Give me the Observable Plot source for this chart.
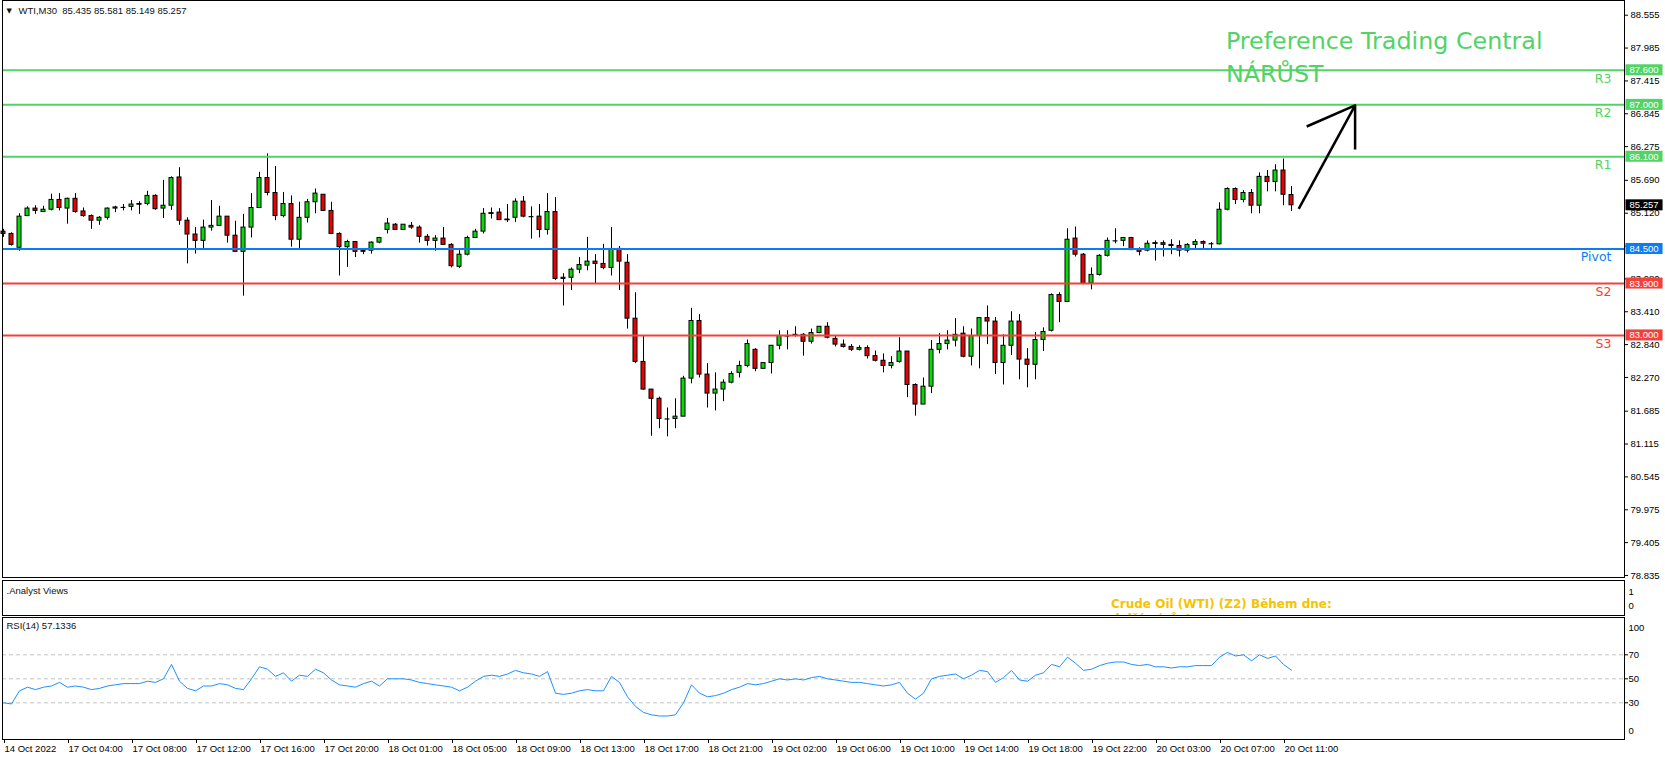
<!DOCTYPE html>
<html><head><meta charset="utf-8">
<script src="https://cdn.jsdelivr.net/npm/d3@7"></script>
<script src="https://cdn.jsdelivr.net/npm/@observablehq/plot@0.6"></script>
<style>
html,body{margin:0;padding:0;background:#fff;}
#wrap{position:relative;width:1665px;height:760px;overflow:hidden;background:#fff;}
#wrap svg{position:absolute;left:0;overflow:visible;}
#wrap text{white-space:pre;}
</style></head><body><div id="wrap"></div>
<script>
// ---- data (WTI, M30) ----
const opens = [84.80,84.76,84.52,85.07,85.20,85.14,85.18,85.35,85.20,85.37,85.15,85.07,84.99,85.04,85.20,85.22,85.23,85.27,85.28,85.42,
85.20,85.25,85.74,84.99,84.75,84.64,84.87,84.90,85.06,84.73,84.45,84.87,85.21,85.73,85.47,85.07,85.28,84.66,85.04,85.31,
85.44,85.16,84.76,84.53,84.62,84.47,84.47,84.61,84.83,84.92,84.83,84.90,84.87,84.71,84.64,84.68,84.57,84.19,84.40,84.69,
84.80,85.11,85.13,85.00,85.04,85.32,85.06,85.06,84.83,85.14,83.98,84.00,84.14,84.21,84.28,84.24,84.17,84.50,84.26,83.29,
82.54,82.06,81.90,81.55,81.55,81.59,82.25,83.25,82.32,81.99,82.06,82.18,82.35,82.47,82.75,82.42,82.52,82.82,82.99,83.01,
83.01,82.89,83.04,83.15,82.94,82.84,82.80,82.75,82.78,82.64,82.56,82.47,82.54,82.72,82.14,81.80,82.11,82.75,82.85,82.91,
83.03,82.63,82.99,83.30,83.24,82.52,82.82,83.24,82.58,82.49,82.92,83.08,83.70,83.58,84.68,84.40,83.90,84.05,84.38,84.64,
84.64,84.69,84.48,84.47,84.59,84.60,84.57,84.55,84.47,84.57,84.62,84.59,84.58,85.18,85.54,85.35,85.47,85.25,85.75,85.66,
85.86,85.435];
const highs = [84.84,84.78,85.11,85.23,85.25,85.24,85.45,85.46,85.38,85.46,85.21,85.09,85.06,85.21,85.24,85.27,85.34,85.32,85.50,85.44,
85.69,85.75,85.91,85.04,84.87,85.00,85.34,85.24,85.06,84.98,85.10,85.46,85.83,86.15,85.93,85.48,85.42,85.31,85.36,85.54,
85.44,85.31,84.78,84.65,84.63,84.50,84.62,84.70,85.03,84.94,84.92,84.96,84.90,84.75,84.73,84.87,84.59,84.47,84.72,84.84,
85.20,85.21,85.20,85.27,85.37,85.41,85.23,85.27,85.46,85.39,84.07,84.17,84.35,84.70,84.40,84.58,84.87,84.54,84.40,83.74,
82.99,82.06,81.93,81.74,81.90,82.29,83.47,83.36,82.51,82.35,82.23,82.37,82.55,82.92,82.77,82.53,82.82,83.08,83.08,83.15,
83.03,83.11,83.15,83.22,82.98,82.92,82.84,82.82,82.82,82.73,82.68,82.63,82.96,82.72,82.16,82.26,82.91,83.03,83.08,83.29,
83.15,83.11,83.31,83.51,83.31,83.01,83.41,83.36,82.77,83.05,83.13,83.72,83.74,84.85,84.88,84.42,84.17,84.40,84.69,84.85,
84.70,84.70,84.52,84.64,84.64,84.64,84.66,84.64,84.59,84.66,84.64,84.61,85.30,85.56,85.56,85.51,85.53,85.82,85.86,85.96,
86.06,85.581];
const lows = [84.70,84.55,84.46,85.06,85.10,85.13,85.16,85.16,84.93,85.12,85.05,84.84,84.91,85.00,85.13,85.16,85.16,85.10,85.25,85.17,
85.03,85.17,84.91,84.24,84.41,84.50,84.81,84.90,84.60,84.45,83.68,84.69,85.20,85.42,84.99,85.04,84.53,84.50,84.95,85.11,
85.15,84.75,84.03,84.18,84.35,84.40,84.41,84.59,84.76,84.82,84.82,84.84,84.60,84.55,84.46,84.56,84.17,84.16,84.38,84.68,
84.76,85.02,85.00,84.96,84.96,85.04,84.67,84.69,84.74,83.95,83.51,83.78,84.07,84.12,83.89,84.14,84.03,83.78,83.11,82.51,
82.05,81.25,81.38,81.24,81.38,81.59,82.16,82.26,81.74,81.69,81.85,82.16,82.26,82.44,82.37,82.42,82.33,82.75,82.75,82.97,
82.64,82.85,83.03,82.94,82.80,82.78,82.72,82.73,82.59,82.54,82.35,82.42,82.52,81.92,81.60,81.80,81.99,82.68,82.75,82.80,
82.61,82.47,82.42,82.84,82.32,82.14,82.65,82.23,82.09,82.23,82.72,83.06,83.22,83.57,84.36,83.88,83.79,84.03,84.36,84.59,
84.54,84.47,84.38,84.45,84.29,84.36,84.40,84.36,84.43,84.49,84.49,84.49,84.57,85.16,85.27,85.30,85.11,85.11,85.49,85.49,
85.25,85.149];
const closes = [84.76,84.57,85.06,85.20,85.16,85.18,85.35,85.21,85.37,85.14,85.07,84.99,85.04,85.20,85.22,85.22,85.27,85.28,85.42,85.19,
85.25,85.73,84.99,84.75,84.64,84.87,84.90,85.06,84.73,84.45,84.87,85.21,85.73,85.47,85.07,85.28,84.66,85.04,85.31,85.46,
85.16,84.76,84.53,84.62,84.45,84.45,84.61,84.69,84.94,84.83,84.92,84.87,84.71,84.64,84.68,84.57,84.20,84.40,84.69,84.80,
85.11,85.12,85.00,85.01,85.32,85.06,85.06,84.83,85.14,83.98,84.00,84.14,84.22,84.28,84.24,84.17,84.50,84.28,83.29,82.54,
82.06,81.90,81.55,81.55,81.59,82.25,83.25,82.32,81.99,82.06,82.18,82.33,82.47,82.85,82.42,82.52,82.82,82.99,82.99,82.99,
82.89,83.04,83.15,82.96,82.84,82.80,82.75,82.78,82.64,82.56,82.47,82.52,82.72,82.14,81.80,82.11,82.75,82.85,82.91,83.01,
82.63,82.99,83.30,83.24,82.52,82.82,83.24,82.58,82.49,82.92,83.06,83.70,83.58,84.66,84.40,83.90,84.05,84.38,84.64,84.64,
84.69,84.48,84.45,84.59,84.60,84.57,84.56,84.47,84.57,84.62,84.59,84.59,85.18,85.54,85.35,85.47,85.25,85.75,85.66,85.86,
85.44,85.257];
const rsiValues = [30,29,40,43,41,43,44,47,43,44, 43,41,42,44,45,46,46,46,48,47,
50,62,48,42,40,44,44,46,45,42, 41,50,60,58,52,55,48,53,52,58,
55,49,45,44,43,46,48,44,50,50, 50,49,47,46,45,44,43,40,43,48,
52,53,52,54,57,55,54,52,56,38, 37,38,40,41,40,40,52,47,35,27,
22,20,19,19,20,30,45,38,35,36, 38,41,43,46,45,46,48,50,49,50,
49,51,52,50,49,48,47,47,46,45, 44,45,47,38,33,38,50,52,53,54,
50,53,57,56,47,51,57,49,48,53, 55,62,60,68,63,57,58,61,63,64,
64,62,61,62,60,60,59,60,60,61, 61,61,68,72,69,70,65,70,67,69,
62,57.13];
const timeLabels = ["14 Oct 2022","17 Oct 04:00","17 Oct 08:00","17 Oct 12:00","17 Oct 16:00","17 Oct 20:00","18 Oct 01:00",
"18 Oct 05:00","18 Oct 09:00","18 Oct 13:00","18 Oct 17:00","18 Oct 21:00","19 Oct 02:00","19 Oct 06:00","19 Oct 10:00",
"19 Oct 14:00","19 Oct 18:00","19 Oct 22:00","20 Oct 03:00","20 Oct 07:00","20 Oct 11:00"];
const timeTickBars = timeLabels.map((_, j) => j * 8);
const priceTicks = [88.555,87.985,87.415,86.845,86.275,85.690,85.120,84.550,83.980,83.410,82.840,82.270,81.685,81.115,80.545,79.975,79.405,78.835];
const levelNames = ["R3","R2","R1","Pivot","S2","S3"];
const levelPrices = [87.6,87.0,86.1,84.5,83.9,83.0];
const levelKinds = ["res","res","res","pivot","sup","sup"];
const lastPrice = 85.257;
const rsiLevels = [70,50,30];
const rsiTop = "100", rsiBottom = "0";
const headerText = "WTI,M30  85.435 85.581 85.149 85.257";
const rsiText = "RSI(14) 57.1336";
const analystText = ".Analyst Views";
const analystNote = "Crude Oil (WTI) (Z2) Během dne:\ndalší nárůst";
const titleNote = [{bar: 152.8, price: 88.373, text: "Preference Trading Central\nNÁRŮST"}];
const arrowPts = [
  {seg: "shaft", bar: 161.9, price: 85.196}, {seg: "shaft", bar: 168.95, price: 86.99},
  {seg: "head", bar: 162.9, price: 86.624}, {seg: "head", bar: 168.95, price: 86.99}, {seg: "head", bar: 168.95, price: 86.225}
];

// ---- styles ----
const kindColor = {res: "#52d366", pivot: "#0b7cf2", sup: "#f2403a"};
const UP = "#00e000", DOWN = "#ee0000";
const FONT = "'Liberation Sans', Arial, sans-serif";
const XDOM = [-0.125, 202.625];

const candles = opens.map((o, i) => ({i, o, h: highs[i], l: lows[i], c: closes[i]}));
const levels = levelNames.map((name, i) => ({name, price: levelPrices[i], color: kindColor[levelKinds[i]]}));
const boxes = [...levels.map(d => ({price: d.price, color: d.color})), {price: lastPrice, color: "#000000"}];

const wrap = document.getElementById("wrap");
function place(svg, top) { svg.style.top = top + "px"; wrap.appendChild(svg); }

const main = Plot.plot({
  width: 1665, height: 580, marginLeft: 2, marginRight: 41, marginTop: 0, marginBottom: 3,
  x: {domain: XDOM, axis: null},
  y: {domain: [78.7997, 88.81], axis: null},
  color: {type: "identity"},
  style: {background: "transparent", fontFamily: FONT, fontSize: "9.5px", color: "#000"},
  marks: [
    Plot.ruleX(candles, {x: "i", y1: "l", y2: "h", stroke: "#000", strokeWidth: 1}),
    Plot.rect(candles, {x1: d => d.i - 0.25, x2: d => d.i + 0.25, y1: "o", y2: "c",
      fill: d => d.c >= d.o ? UP : DOWN, stroke: "#000", strokeWidth: 1}),
    Plot.ruleY(candles.filter(d => Math.abs(d.c - d.o) < 0.015), {x1: d => d.i - 0.3, x2: d => d.i + 0.3, y: "c", stroke: "#000", strokeWidth: 1.2}),
    Plot.ruleY(levels, {y: "price", stroke: "color", strokeWidth: 2}),
    Plot.text(levels, {y: "price", text: "name", fill: "color", frameAnchor: "right", textAnchor: "end",
      lineAnchor: "top", dx: -13, dy: 3.5, fontSize: 12.5, fontFamily: "'DejaVu Sans', sans-serif"}),
    Plot.line(arrowPts, {x: "bar", y: "price", z: "seg", stroke: "#000", strokeWidth: 2.5, strokeLinecap: "butt"}),
    Plot.text(titleNote, {x: "bar", y: "price", text: "text", textAnchor: "start", lineAnchor: "top",
      fill: "#52d366", fontSize: 23.8, lineHeight: 1.39, fontFamily: "'DejaVu Sans', sans-serif"}),
    Plot.frame({stroke: "#000"}),
    Plot.axisY(priceTicks, {anchor: "right", tickSize: 3, tickPadding: 3, tickFormat: d => d.toFixed(3), fontSize: 9.5}),
    Plot.text(boxes, {y: "price", text: d => d.price.toFixed(3), frameAnchor: "right", textAnchor: "start",
      dx: 5, fill: "#ffffff", stroke: "color", strokeWidth: 0, fontSize: 9.5, className: "pricebox"}),
    Plot.text(["▼"], {text: d => d, frameAnchor: "top-left", dx: 4, dy: 7.5, lineAnchor: "top", fontSize: 7,
      fontFamily: "'DejaVu Sans', sans-serif", fill: "#111"}),
    Plot.text([headerText], {text: d => d, frameAnchor: "top-left", dx: 16, dy: 7, lineAnchor: "top", fontSize: 9.5, fill: "#111"})
  ]
});
place(main, 0);

// backgrounds for price boxes on the axis
d3.select(main).selectAll(".pricebox text").each(function () {
  const bb = this.getBBox();
  const bg = this.getAttribute("stroke");
  const cy = bb.y + bb.height / 2;
  d3.select(this.parentNode).insert("rect", () => this)
    .attr("transform", this.getAttribute("transform"))
    .attr("x", bb.x - 4).attr("y", cy - 5.5).attr("width", bb.width + 8).attr("height", 11)
    .attr("fill", bg);
  this.setAttribute("stroke", "none");
});

const analyst = Plot.plot({
  width: 1665, height: 36, marginLeft: 2, marginRight: 41, marginTop: 0, marginBottom: 1,
  x: {domain: XDOM, axis: null},
  y: {domain: [0, 1], axis: null},
  style: {background: "transparent", fontFamily: FONT, fontSize: "9.5px", color: "#000"},
  marks: [
    Plot.frame({stroke: "#000"}),
    Plot.text([analystText], {text: d => d, frameAnchor: "top-left", dx: 4, dy: 6.5, lineAnchor: "top", fill: "#111"}),
    Plot.text([analystNote], {text: d => d, frameAnchor: "top-left", dx: 1108.5, dy: 16, lineAnchor: "top",
      fill: "#f5c400", fontWeight: "bold", fontSize: 12, lineHeight: 1.3, fontFamily: "'DejaVu Sans', sans-serif", clip: true}),
    Plot.text(["1"], {text: d => d, frameAnchor: "top-right", dx: 4, dy: 7.5, textAnchor: "start"}),
    Plot.text(["0"], {text: d => d, frameAnchor: "bottom-right", dx: 4, dy: -7, textAnchor: "start"})
  ]
});
place(analyst, 580);

const rsiPlot = Plot.plot({
  width: 1665, height: 144, marginLeft: 2, marginRight: 41, marginTop: 1, marginBottom: 21,
  x: {domain: XDOM, axis: null},
  y: {domain: [-0.583, 101.08], axis: null},
  style: {background: "transparent", fontFamily: FONT, fontSize: "9.5px", color: "#000"},
  marks: [
    Plot.ruleY(rsiLevels, {stroke: "#c4c4c4", strokeDasharray: "4,3"}),
    Plot.line(rsiValues, {x: (d, i) => i, y: d => d, stroke: "#1e90ff", strokeWidth: 1}),
    Plot.frame({stroke: "#000"}),
    Plot.axisY(rsiLevels, {anchor: "right", tickSize: 3, tickPadding: 1, fontSize: 9.5}),
    Plot.text([rsiTop], {text: d => d, frameAnchor: "top-right", dx: 4, dy: 7, textAnchor: "start"}),
    Plot.text([rsiBottom], {text: d => d, frameAnchor: "bottom-right", dx: 4, dy: -6, textAnchor: "start"}),
    Plot.axisX(timeTickBars, {anchor: "bottom", tickSize: 4, tickPadding: 1.5, textAnchor: "start", dx: 1,
      tickFormat: d => timeLabels[d / 8], fontSize: 9.5}),
    Plot.text([rsiText], {text: d => d, frameAnchor: "top-left", dx: 4, dy: 5, lineAnchor: "top", fill: "#111"})
  ]
});
place(rsiPlot, 616);
</script></body></html>
